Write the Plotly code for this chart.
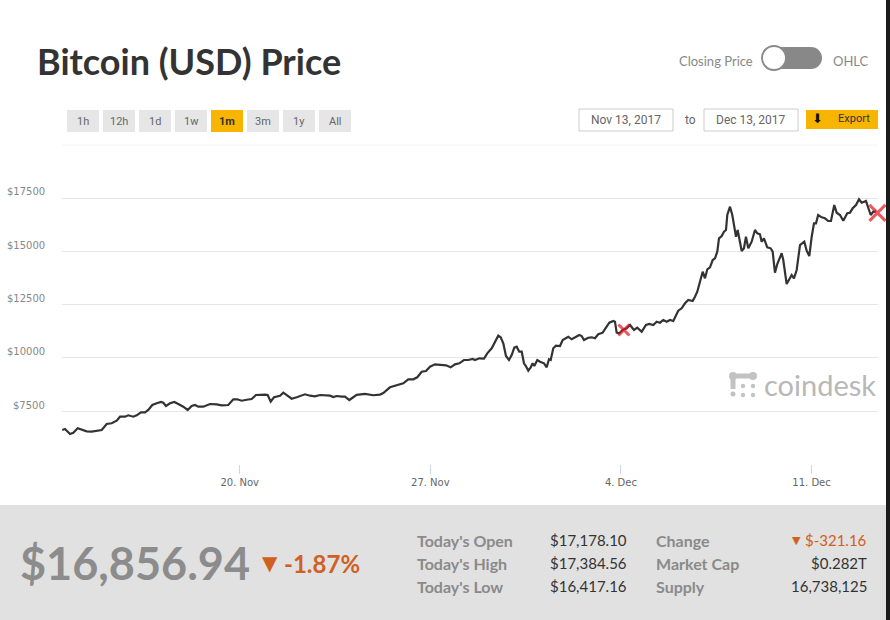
import pandas as pd
import plotly.graph_objects as go

# ---------------- data ----------------
start_date = "2017-11-13"
day_offsets = [
    0.485, 0.584, 0.768, 0.889, 1.050, 1.197, 1.381, 1.564, 1.748, 1.932,
    2.115, 2.299, 2.483, 2.604, 2.787, 2.909, 3.092, 3.217, 3.375, 3.522,
    3.643, 3.790, 3.952, 4.109, 4.194, 4.293, 4.440, 4.598, 4.745, 4.928,
    5.090, 5.237, 5.358, 5.479, 5.663,
    5.909, 6.155, 6.339, 6.581, 6.765, 6.911, 7.073, 7.257, 7.440, 7.598,
    7.745, 7.929, 8.028, 8.138, 8.259, 8.380, 8.479, 8.601, 8.748, 8.909,
    9.093, 9.214, 9.398, 9.581, 9.765, 9.949, 10.132, 10.316, 10.437, 10.562,
    10.746, 10.867, 11.025,
    11.296, 11.601, 11.906, 12.152, 12.273, 12.519, 12.765, 13.008, 13.191, 13.375,
    13.522, 13.683, 13.841, 13.988, 14.172, 14.355, 14.576, 14.748, 14.906, 15.064,
    15.236, 15.394, 15.556, 15.641, 15.798, 15.971,
    16.092, 16.254, 16.375, 16.496, 16.584, 16.680, 16.779, 16.889, 16.989, 17.084,
    17.172, 17.267, 17.356, 17.440, 17.510, 17.598, 17.687, 17.760, 17.819, 17.929,
    18.028, 18.175, 18.274, 18.358, 18.421, 18.516, 18.616, 18.762, 18.861, 19.008,
    19.067, 19.192, 19.313, 19.471, 19.559, 19.643, 19.801, 19.926, 20.047, 20.168,
    20.330, 20.452, 20.573, 20.720, 20.782, 20.844, 20.940, 21.063, 21.212, 21.333,
    21.480, 21.601, 21.762, 21.920, 22.041, 22.188, 22.313, 22.434, 22.555, 22.680,
    22.801, 22.923, 23.022, 23.106, 23.231, 23.353, 23.474, 23.635, 23.720, 23.804,
    23.903, 24.003, 24.087, 24.172, 24.271, 24.370, 24.455, 24.539, 24.602, 24.701,
    24.785, 24.859, 24.906, 25.006, 25.090, 25.152, 25.226, 25.288, 25.373, 25.435,
    25.519, 25.592, 25.677, 25.801, 25.923, 26.007, 26.106, 26.169, 26.253, 26.374,
    26.499, 26.573, 26.657, 26.742, 26.903, 26.962, 27.087, 27.183, 27.271, 27.355,
    27.455, 27.576, 27.734, 27.822, 27.918, 28.006, 28.090, 28.164, 28.244, 28.372,
    28.493, 28.612, 28.714, 28.835, 28.923, 29.045, 29.166, 29.313, 29.412, 29.511,
    29.633, 29.743, 29.842, 29.999, 30.084, 30.172, 30.268, 30.367,
]
prices = [
    6608, 6655, 6420, 6481, 6687, 6608, 6547, 6528, 6575, 6608,
    6889, 6922, 7044, 7232, 7232, 7298, 7232, 7298, 7439, 7439,
    7547, 7781, 7861, 7922, 7889, 7734, 7861, 7922, 7828, 7702,
    7547, 7734, 7781, 7702, 7702,
    7828, 7814, 7767, 7781, 8049, 8049, 7983, 8030, 8063, 8251,
    8265, 8265, 8251, 7936, 8143, 8204, 8218, 8359, 8237, 8077,
    8143, 8204, 8284, 8218, 8190, 8251, 8251, 8218, 8157, 8204,
    8171, 8171, 8016,
    8260, 8300, 8240, 8270, 8345, 8612, 8720, 8800, 8988, 8988,
    9082, 9345, 9378, 9580, 9692, 9659, 9645, 9551, 9692, 9739,
    9894, 9894, 9941, 9894, 9974, 9965,
    10209, 10443, 10753, 11035, 10960, 10678, 10082, 9894, 10129, 10472,
    10519, 10284, 10284, 9739, 9612, 9392, 9551, 9739, 9612, 9894,
    9814, 9739, 9551, 9927, 9894, 10443, 10565, 10551, 10833, 10960,
    10988, 10866, 10960, 11068, 11021, 10833, 10941, 10960, 10913, 11101,
    11176, 11429, 11645, 11725, 11692, 11176, 11148, 11303, 11382, 11537,
    11303, 11411, 11223, 11537, 11584, 11537, 11692, 11645, 11772, 11692,
    11772, 11725, 12007, 12209, 12321, 12556, 12711, 12664, 12866, 13101,
    13570, 14040, 13730, 14152, 14246, 14589, 14669, 14979, 15608, 15716,
    15918, 15998, 16702, 17092, 16702, 16153, 15683, 15998, 15373, 15012,
    15138, 15683, 15138, 15448, 15998, 15843, 15796, 15448, 15608, 15185,
    15138, 14979, 13993, 14401, 14904, 14589, 13462, 13683, 13885, 13730,
    14120, 15293, 15448, 15026, 14777, 15683, 16312, 16312, 16702, 16594,
    16547, 16420, 16420, 17171, 16810, 16702, 16434, 16782, 16810, 17016,
    17171, 17439, 17279, 17359, 17016, 16702, 16857, 16857,
]
marker_days = [21.11, 30.42]
marker_prices = [11300, 16800]
marker_sizes = [11, 16]

y_ticks = [7500, 10000, 12500, 15000, 17500]
y_labels = ["$7500", "$10000", "$12500", "$15000", "$17500"]
top_grid = 20000
x_range_days = [0.474, 30.441]
y_range = [5000, 20000]

range_buttons = ["1h", "12h", "1d", "1w", "1m", "3m", "1y", "All"]
active_button = "1m"
date_from = "Nov 13, 2017"
date_to = "Dec 13, 2017"

current_price = "$16,856.94"
pct_change = "-1.87%"
stat_labels_1 = ["Today's Open", "Today's High", "Today's Low"]
stat_values_1 = ["$17,178.10", "$17,384.56", "$16,417.16"]
stat_labels_2 = ["Change", "Market Cap", "Supply"]
stat_values_2 = ["$-321.16", "$0.282T", "16,738,125"]

# ---------------- helpers ----------------
W, H = 890, 620
def px(x):
    return x / W
def py(y):
    return 1 - y / H

base = pd.Timestamp(start_date)
times = [base + pd.Timedelta(days=d) for d in day_offsets]
mtimes = [base + pd.Timedelta(days=d) for d in marker_days]
xr = [base + pd.Timedelta(days=d) for d in x_range_days]

FONT = "Lato"
ORANGE = "#d0601f"

fig = go.Figure()
fig.add_trace(go.Scatter(x=times, y=prices, mode="lines",
                         line=dict(color="#333333", width=2.2), hoverinfo="skip"))
fig.add_trace(go.Scatter(x=mtimes, y=marker_prices, mode="markers", cliponaxis=False,
                         marker=dict(symbol="x-thin", size=marker_sizes,
                                     line=dict(color="#e5121b", width=3)),
                         hoverinfo="skip"))

shapes = []
annotations = []

def rect(x0, y0, x1, y1, fill, line=None, lw=0, layer="below"):
    shapes.append(dict(type="rect", xref="paper", yref="paper",
                       x0=px(x0), x1=px(x1), y0=py(y1), y1=py(y0),
                       fillcolor=fill, line=dict(color=line or fill, width=lw),
                       layer=layer))

def circle(cx, cy, r, fill, line=None, lw=0, layer="above"):
    shapes.append(dict(type="circle", xref="paper", yref="paper",
                       x0=px(cx - r), x1=px(cx + r), y0=py(cy + r), y1=py(cy - r),
                       fillcolor=fill, line=dict(color=line or fill, width=lw),
                       layer=layer))

def text(x, y, s, size, color, xanchor="left", bold=False, family=FONT):
    annotations.append(dict(xref="paper", yref="paper", x=px(x), y=py(y),
                            text=("<b>%s</b>" % s) if bold else s,
                            showarrow=False, xanchor=xanchor, yanchor="middle",
                            font=dict(size=size, color=color, family=family)))

# bottom panel & right edge
rect(0, 505, 886, 620, "#e1e1e1")
rect(886, 0, 890, 620, "#1b1b1b", layer="above")

# top gridline of the plot (20000), drawn on the y scale
shapes.append(dict(type="line", xref="paper", yref="y", x0=px(62), x1=px(878),
                   y0=top_grid, y1=top_grid, line=dict(color="#e6e6e6", width=1),
                   layer="below"))

# title
text(35, 61, "Bitcoin (USD) Price", 36, "#333333", bold=True)

# toggle
text(755, 61, "Closing Price", 13, "#888888", xanchor="right")
circle(773, 58, 11, "#888888")
circle(811, 58, 11, "#888888")
rect(773, 47, 811, 69, "#888888", layer="above")
circle(774, 58, 12, "#ffffff", line="#8a8a8a", lw=2)
text(831, 61, "OHLC", 13, "#888888")

# range buttons
bx = 67
for lab in range_buttons:
    active = lab == active_button
    rect(bx, 110, bx + 32, 132, "#f7b500" if active else "#e6e6e6")
    text(bx + 16, 121, lab, 11, "#333333" if active else "#666666",
         xanchor="center", bold=active, family="Roboto")
    bx += 36

# date boxes and export
rect(579, 109, 673, 131, "#ffffff", line="#cccccc", lw=1)
text(626, 120, date_from, 12, "#666666", xanchor="center", family="Roboto")
text(690, 120, "to", 12, "#666666", xanchor="center", family="Roboto")
rect(704, 109, 798, 131, "#ffffff", line="#cccccc", lw=1)
text(751, 120, date_to, 12, "#666666", xanchor="center", family="Roboto")
rect(806, 110, 878, 129, "#f7b500")
text(817, 119, "⬇", 13, "#111111", xanchor="center", family="DejaVu Sans")
text(836, 119, "Export", 11, "#333333", family="Roboto")

# coindesk watermark
LOGO = "#c2c2c2"
shapes.append(dict(type="line", xref="paper", yref="paper",
                   x0=px(733), x1=px(752), y0=py(376), y1=py(376),
                   line=dict(color=LOGO, width=5), layer="below"))
shapes.append(dict(type="line", xref="paper", yref="paper",
                   x0=px(733), x1=px(733), y0=py(376), y1=py(389),
                   line=dict(color=LOGO, width=5), layer="below"))
circle(733, 376, 4, LOGO, layer="below")
circle(753, 376, 4, LOGO, layer="below")
circle(733, 394, 2.5, LOGO, layer="below")
circle(743, 386, 2.2, LOGO, layer="below")
circle(753, 386, 2.2, LOGO, layer="below")
circle(743, 395, 2.2, LOGO, layer="below")
circle(753, 395, 2.2, LOGO, layer="below")
text(762, 384, "coindesk", 29, "#b8b8b8")

# y-axis labels (tied to the y axis scale)
for v, lab in zip(y_ticks, y_labels):
    annotations.append(dict(xref="paper", yref="y", x=px(47), y=v, text=lab,
                            showarrow=False, xanchor="right", yanchor="middle",
                            yshift=6, font=dict(size=10, color="#888888", family="DejaVu Sans")))

# bottom stats
text(18, 563, current_price, 45, "#8c8c8c", bold=True)
text(270, 563, "▼", 20, ORANGE, xanchor="center", family="DejaVu Sans")
text(282, 563, pct_change, 24, ORANGE, bold=True)
rows_y = [540, 563, 586]
for lab, val, y in zip(stat_labels_1, stat_values_1, rows_y):
    text(415, y, lab, 16, "#8a8a8a", bold=True)
    text(629, y, val, 15, "#333333", xanchor="right")
for i, (lab, val, y) in enumerate(zip(stat_labels_2, stat_values_2, rows_y)):
    text(654, y, lab, 16, "#8a8a8a", bold=True)
    if i == 0:
        text(796, y, "▼", 11, ORANGE, xanchor="center", family="DejaVu Sans")
        text(869, y, val, 15, ORANGE, xanchor="right")
    else:
        text(869, y, val, 15, "#333333", xanchor="right")

fig.update_layout(
    width=W, height=H, margin=dict(l=0, r=0, t=0, b=0),
    paper_bgcolor="#ffffff", plot_bgcolor="rgba(0,0,0,0)",
    showlegend=False, shapes=shapes, annotations=annotations,
    font=dict(family=FONT),
    xaxis=dict(domain=[px(62), px(878)], type="date", range=xr,
               tick0="2017-11-20", dtick=7 * 86400000, tickformat="%-d. %b",
               ticks="outside", ticklen=9, tickcolor="#ccd6eb", tickwidth=1,
               showgrid=False, zeroline=False, showline=False,
               tickfont=dict(size=10, color="#666666", family="DejaVu Sans")),
    yaxis=dict(domain=[py(464.25), py(144.75)], range=y_range,
               tickvals=y_ticks, showticklabels=False,
               showgrid=True, gridcolor="#e6e6e6", gridwidth=1,
               zeroline=False, showline=False, ticks=""),
)

fig.write_html("out.html", config={"displayModeBar": False, "staticPlot": True},
               post_script="document.body.style.margin='0';document.body.style.overflow='hidden';")
